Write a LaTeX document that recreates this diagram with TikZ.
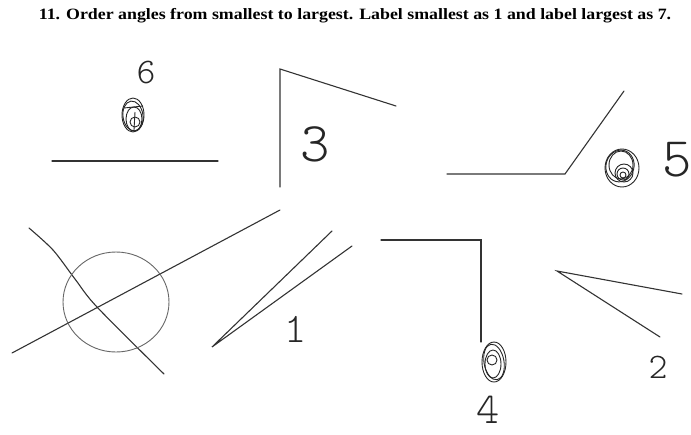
\documentclass[tikz,border=0pt]{standalone}
\usepackage{fontspec}
\setmainfont{Liberation Serif}
\newcommand{\hand}{\fontfamily{lmtt}\fontseries{l}\selectfont}
\tikzset{
  pen/.style={black!80, line width=1.1pt, line cap=round, line join=miter},
  scrib/.style={black!85, line width=0.9pt},
  digit/.style={inner sep=0pt, black!85}
}

\begin{document}
\begin{tikzpicture}[x=1pt,y=-1pt]
\useasboundingbox (0,0) rectangle (691,434);
\node[font=\bfseries\fontsize{15}{17}\selectfont] (title) at (355,16) {\scalebox{1.19}[1.05]{11. Order angles from smallest to largest. Label smallest as 1 and label largest as 7.}};
% angle 6
\draw[pen] (52,161) -- (218,161);
\draw[scrib] (133,115) ellipse (11 and 17);
\draw[scrib, rotate around={8:(133,116)}] (133,116) ellipse (10 and 15);
\draw[scrib] (134,119) ellipse (8 and 12);
\draw[scrib] (135,122) circle (5);
\draw[scrib] (124,108) -- (143,106);
\draw[scrib] (135,112) -- (134,130);
\node[digit, font=\hand\fontsize{36}{36}\selectfont] (six) at (146,73) {6};
% angle 3
\draw[pen] (280,187) -- (280,69) -- (396,106);
\node[digit, font=\hand\fontsize{56}{56}\selectfont] (three) at (315,144) {3};
% angle 5
\draw[pen] (447,174) -- (565,174) -- (624,91);
\draw[scrib] (622,168) ellipse (17 and 19);
\draw[scrib, rotate around={-15:(620,166)}] (620,166) ellipse (14 and 16);
\draw[scrib] (621,165) ellipse (12 and 14);
\draw[scrib] (624,173) circle (9);
\draw[scrib] (623,174) circle (6);
\draw[scrib] (623,175) circle (3);
\node[digit, font=\hand\fontsize{56}{56}\selectfont] (five) at (677,160) {5};
% reflex angle
\draw[pen] (12,353) -- (280,210);
\draw[pen] plot[smooth] coordinates {(29,228) (53,250) (75,279) (97,307) (164,374)};
\draw[black!60, line width=0.9pt] (116,302) ellipse (53 and 50);
% angle 1
\draw[pen] (332,231) -- (212,347) -- (352,246);
\node[digit, font=\hand\fontsize{42}{42}\selectfont] (one) at (296,329) {1};
% angle 4
\draw[pen] (381,240) -- (481,240) -- (481,342);
\draw[scrib] (494,362) ellipse (12 and 20);
\draw[scrib, rotate around={10:(494,362)}] (494,362) ellipse (10 and 18);
\draw[scrib] (493,364) ellipse (8 and 14);
\draw[scrib] (492,360) circle (5);
\node[digit, font=\hand\fontsize{44}{44}\selectfont] (four) at (488,410) {4};
% angle 2
\draw[pen] (682,294) -- (557,271) -- (660,337);
\node[digit, font=\hand\fontsize{36}{36}\selectfont] (two) at (658,367) {2};
\end{tikzpicture}
\end{document}
